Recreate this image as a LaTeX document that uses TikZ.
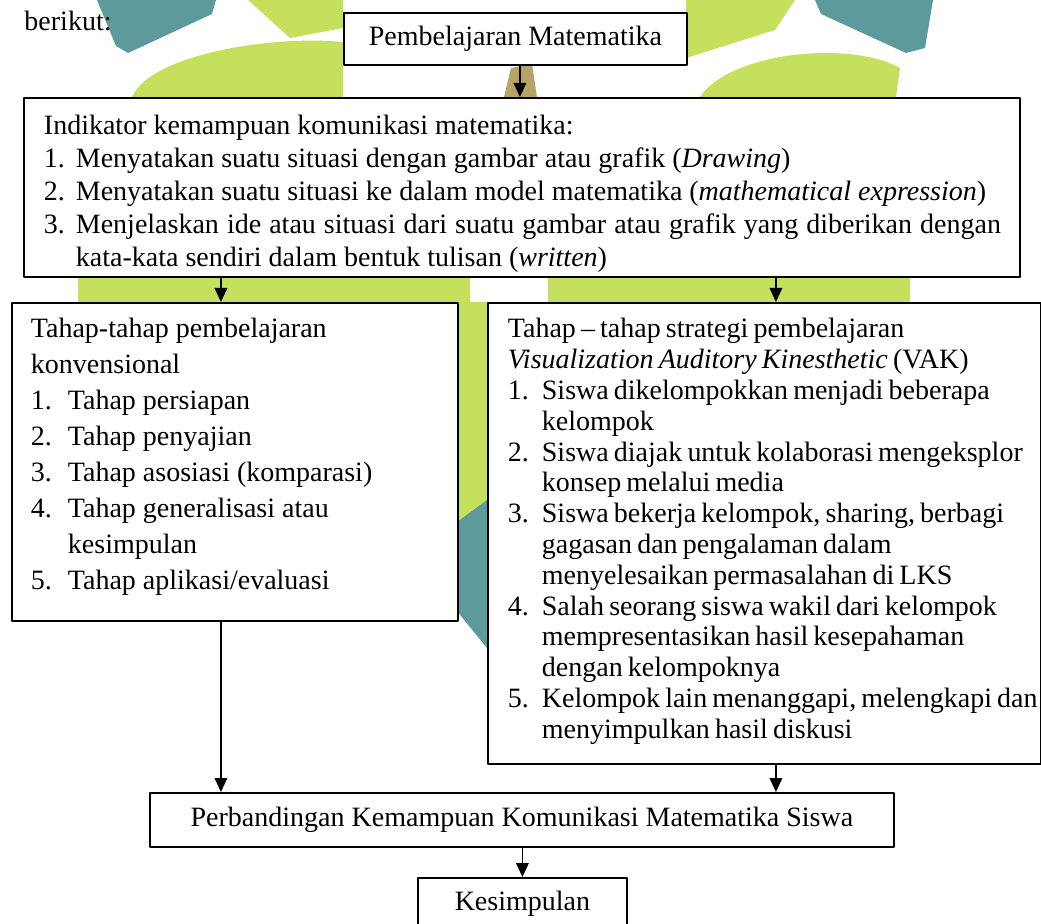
\documentclass[tikz,border=0pt]{standalone}
\usepackage{fontspec}
\setmainfont{Liberation Serif}
\usetikzlibrary{arrows.meta}
\definecolor{limau}{HTML}{C6DF5C}
\definecolor{toska}{HTML}{5C9A9B}
\definecolor{coklat}{HTML}{B9A467}
\newdimen\px \px=0.42857pt
\newdimen\gantung
\newcommand{\putus}{\hfil\break}
\newcommand{\butir}[2]{\par\hangindent=\gantung\hangafter=1\noindent\makebox[\gantung][l]{#1}#2}
\newcommand{\isi}[4]{\parbox[c][#2][t]{#1}{\fontsize{12pt}{#3}\selectfont\parindent=0pt #4}}

\begin{document}
\begin{tikzpicture}[x=0.42857pt, y=-0.42857pt, font=\fontsize{12pt}{14pt}\selectfont, line join=round, >={Triangle[length=6pt,width=5.4pt]},
		kotak/.style={draw, line width=0.8pt, fill=white, inner sep=0pt, anchor=north west},
		panah/.style={->, line width=0.65pt}]
	\useasboundingbox (0,0) rectangle (1041,924);
	\clip (0,0) rectangle (1041,924);
	
	% logo di latar
	\fill[toska] (97,0) -- (216,0) -- (212,14) -- (128,53) -- (116,46) -- cycle;
	\fill[toska] (815,0) -- (933,0) -- (925,48) -- (906,53) -- (821,14) -- cycle;
	\fill[limau] (132,97) .. controls (150,55) and (270,35) .. (343,42) -- (343,97) -- cycle;
	\fill[limau] (248,0) -- (343,0) -- (343,28) -- (290,38) -- cycle;
	\fill[limau] (686,0) -- (795,0) -- (775,30) -- (686,58) -- cycle;
	\fill[limau] (700,97) .. controls (730,52) and (850,40) .. (900,68) -- (896,97) -- cycle;
	\fill[coklat] (504,97) -- (511,68) -- (532,64) -- (537,97) -- cycle;
	\fill[limau] (78,276) rectangle (470,302);
	\fill[limau] (548,276) rectangle (910,302);
	\fill[limau] (457,302) rectangle (487,520);
	\fill[toska] (457,522) -- (487,500) -- (487,648) -- (452,605) -- cycle;
	
	\node[anchor=base west, inner sep=0pt] (pengantar) at (24,31) {berikut:};
	\node[kotak, minimum width=343\px, minimum height=52\px] (atas) at (343,12) {Pembelajaran Matematika};
	
	\node[kotak] (indikator) at (23,97) {\isi{996\px}{179\px}{33\px}{\leftskip=20\px \rightskip=19\px \gantung=32\px
			\rule{0pt}{37\px}Indikator kemampuan komunikasi matematika:
			\butir{1.}{Menyatakan suatu situasi dengan gambar atau grafik (\textit{Drawing})}
			\butir{2.}{Menyatakan suatu situasi ke dalam model matematika (\textit{mathematical expression})}
			\butir{3.}{Menjelaskan ide atau situasi dari suatu gambar atau grafik yang diberikan dengan\linebreak kata-kata sendiri dalam bentuk tulisan (\textit{written})}}};
	
	\node[kotak] (konvensional) at (11,302) {\isi{446\px}{318\px}{36\px}{\raggedright\leftskip=19\px \gantung=37\px
			\rule{0pt}{35\px}Tahap-tahap pembelajaran\putus konvensional
			\butir{1.}{Tahap persiapan}
			\butir{2.}{Tahap penyajian}
			\butir{3.}{Tahap asosiasi (komparasi)}
			\butir{4.}{Tahap generalisasi atau\putus kesimpulan}
			\butir{5.}{Tahap aplikasi/evaluasi}}};
	
	\node[kotak] (vak) at (487,302) {\isi{553\px}{461\px}{30.8\px}{\raggedright\leftskip=20\px \rightskip=-12\px plus 1fil \gantung=34\px \spaceskip=2.2pt plus 1pt minus 0.3pt
			\rule{0pt}{35\px}Tahap -- tahap strategi pembelajaran\putus \textit{Visualization Auditory Kinesthetic} (VAK)
			\butir{1.}{Siswa dikelompokkan menjadi beberapa\putus kelompok}
			\butir{2.}{Siswa diajak untuk kolaborasi mengeksplor\putus konsep melalui media}
			\butir{3.}{Siswa bekerja kelompok, sharing, berbagi\putus gagasan dan pengalaman dalam\putus menyelesaikan permasalahan di LKS}
			\butir{4.}{Salah seorang siswa wakil dari kelompok\putus mempresentasikan hasil kesepahaman\putus dengan kelompoknya}
			\butir{5.}{Kelompok lain menanggapi, melengkapi dan\putus menyimpulkan hasil diskusi}}};
	
	\node[kotak, minimum width=744\px, minimum height=54\px] (banding) at (149,792) {Perbandingan Kemampuan Komunikasi Matematika Siswa};
	\node[kotak, minimum width=209\px, minimum height=52\px] (simpulan) at (417,877) {Kesimpulan};
	
	\draw[panah] ([xshift=4.5\px]atas.south) -- ([xshift=4.5\px]atas.south |- indikator.north);
	\foreach \k/\g in {konvensional/-14, vak/11.5} {
		\draw[panah] ([xshift=\g\px]\k.north |- indikator.south) -- ([xshift=\g\px]\k.north);
		\draw[panah] ([xshift=\g\px]\k.south) -- ([xshift=\g\px]\k.south |- banding.north);
	}
	\draw[panah] (simpulan.north |- banding.south) -- (simpulan.north);
\end{tikzpicture}
\end{document}
